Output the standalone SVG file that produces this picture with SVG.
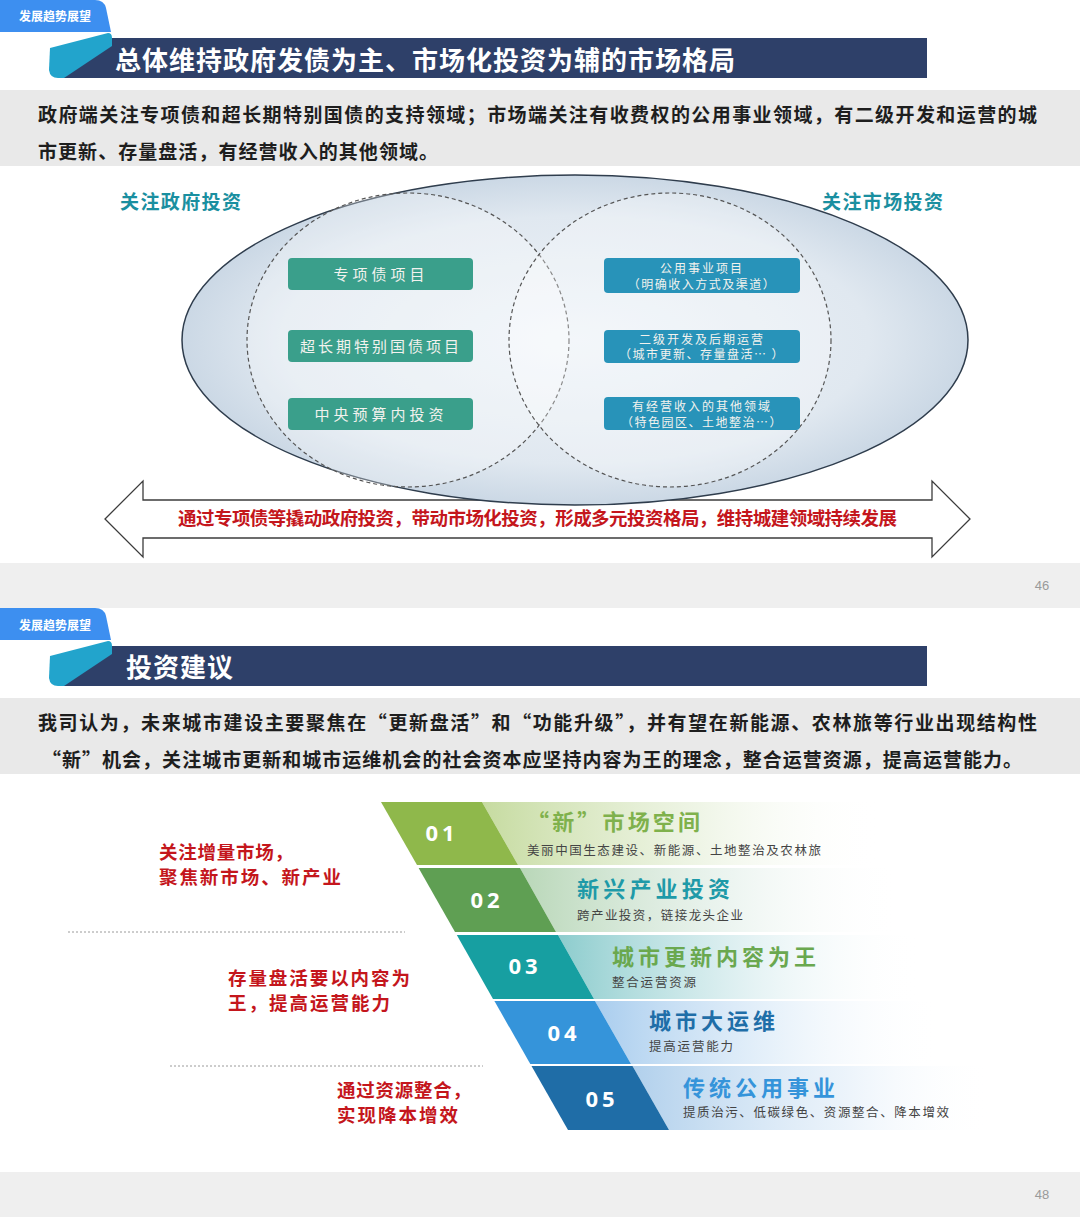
<svg xmlns="http://www.w3.org/2000/svg" width="1080" height="1217" viewBox="0 0 1080 1217">
<defs>
<style>
text{font-family:"Noto Sans CJK SC","Liberation Sans",sans-serif;dominant-baseline:central}
.tab{fill:#3d8ff0}
.tabt{fill:#fff;font-size:12px;font-weight:700}
.navy{fill:#2e4069}
.cyan{fill:#22a4cc}
.title{fill:#fff;font-size:26px;font-weight:700}
.band{fill:#e9e9e9}
.lead{fill:#1e1e1e;font-size:19px;font-weight:700}
.foot{fill:#efefef}
.pg{fill:#9a9a9a;font-size:13px;font-family:"Liberation Sans",sans-serif}
.lab{fill:#1a8fa0;font-size:19px;font-weight:700}
.gbox{fill:#3a9f8b}
.bbox{fill:#2893b9}
.bt{fill:#f2f2ee;font-size:15px}
.bt2{fill:#f2f2ee;font-size:12px}
.red{fill:#c4161c;font-size:18.5px;font-weight:700}
.num{fill:#fff;font-size:22px;font-weight:700;font-family:"Open Sans","Liberation Sans",sans-serif;letter-spacing:4px}
.ft{font-size:22px;font-weight:700}
.fs{fill:#444;font-size:12.5px}
.dot{stroke:#9a9a9a;stroke-width:1;stroke-dasharray:2 2;fill:none}
</style>
<radialGradient id="ell" cx="0.5" cy="0.5" r="0.5">
<stop offset="0" stop-color="#eef3f8"/>
<stop offset="0.75" stop-color="#e0e8f0"/>
<stop offset="1" stop-color="#cbd8e5"/>
</radialGradient>
<linearGradient id="tabg" x1="0" y1="0" x2="0" y2="1">
<stop offset="0" stop-color="#4a9af5"/>
<stop offset="1" stop-color="#3584e8"/>
</linearGradient>
<linearGradient id="g1" x1="0" y1="0" x2="1" y2="0"><stop offset="0" stop-color="#c6dba0"/><stop offset="0.55" stop-color="#e8f1dc" stop-opacity="0.7"/><stop offset="1" stop-color="#fff" stop-opacity="0"/></linearGradient>
<linearGradient id="g2" x1="0" y1="0" x2="1" y2="0"><stop offset="0" stop-color="#b9d7b8"/><stop offset="0.55" stop-color="#e4f0ea" stop-opacity="0.7"/><stop offset="1" stop-color="#fff" stop-opacity="0"/></linearGradient>
<linearGradient id="g3" x1="0" y1="0" x2="1" y2="0"><stop offset="0" stop-color="#8ccccd"/><stop offset="0.55" stop-color="#dbeef0" stop-opacity="0.7"/><stop offset="1" stop-color="#fff" stop-opacity="0"/></linearGradient>
<linearGradient id="g4" x1="0" y1="0" x2="1" y2="0"><stop offset="0" stop-color="#a9cdee"/><stop offset="0.55" stop-color="#e1eef9" stop-opacity="0.7"/><stop offset="1" stop-color="#fff" stop-opacity="0"/></linearGradient>
<linearGradient id="g5" x1="0" y1="0" x2="1" y2="0"><stop offset="0" stop-color="#b1d0ec"/><stop offset="0.6" stop-color="#e4eff9" stop-opacity="0.7"/><stop offset="1" stop-color="#fff" stop-opacity="0"/></linearGradient>
</defs>

<rect x="0" y="0" width="1080" height="1217" fill="#fff"/>

<!-- Slide 1 -->
<g id="slide1-header">
<path class="tab" fill="url(#tabg)" d="M0,0 H95 Q104,0 106,8 L111,32 H0 Z"/>
<text class="tabt" x="19" y="15">发展趋势展望</text>
<path class="navy" d="M100,38 H927 V78 H62 Q55,78 55,72 Z"/>
<path class="cyan" d="M50,48 L108,33 Q112,33 112,38 L112,46 L64,78 H58 Q50,78 49,70 Z"/>
<text class="title" x="115" y="58" textLength="620" lengthAdjust="spacing">总体维持政府发债为主、市场化投资为辅的市场格局</text>
</g>
<g id="slide1-lead">
<rect class="band" x="0" y="90" width="1080" height="76"/>
<text class="lead" x="38" y="113" textLength="999" lengthAdjust="spacing">政府端关注专项债和超长期特别国债的支持领域；市场端关注有收费权的公用事业领域，有二级开发和运营的城</text>
<text class="lead" x="38" y="150" textLength="400" lengthAdjust="spacing">市更新、存量盘活，有经营收入的其他领域。</text>
</g>

<g id="double-arrow">
<path d="M105,519 L143,481 V500 H932 V481 L970,519 L932,557 V538 H143 V557 Z" fill="#fff" stroke="#3c3c3c" stroke-width="1.3" stroke-linejoin="miter"/>
</g>

<g id="venn">
<ellipse cx="575" cy="340" rx="393" ry="165" fill="url(#ell)" stroke="#2f3d4d" stroke-width="1.5"/>
<ellipse cx="408" cy="340" rx="161" ry="147" fill="#fff" fill-opacity="0.3" stroke="#555" stroke-width="1.2" stroke-dasharray="4 3"/>
<ellipse cx="670" cy="340" rx="161" ry="147" fill="#fff" fill-opacity="0.3" stroke="#555" stroke-width="1.2" stroke-dasharray="4 3"/>
</g>

<g id="label-gov"><text class="lab" x="120" y="200" textLength="121" lengthAdjust="spacing">关注政府投资</text></g>
<g id="label-mkt"><text class="lab" x="822" y="200" textLength="121" lengthAdjust="spacing">关注市场投资</text></g>

<g id="box-g1"><rect class="gbox" x="288" y="258" width="185" height="32" rx="4"/><text class="bt" x="381" y="273" text-anchor="middle" letter-spacing="4">专项债项目</text></g>
<g id="box-g2"><rect class="gbox" x="288" y="330" width="185" height="32" rx="4"/><text class="bt" x="381" y="345" text-anchor="middle" letter-spacing="3">超长期特别国债项目</text></g>
<g id="box-g3"><rect class="gbox" x="288" y="398" width="185" height="32" rx="4"/><text class="bt" x="381" y="413" text-anchor="middle" letter-spacing="4">中央预算内投资</text></g>

<g id="box-m1"><rect class="bbox" x="604" y="258" width="196" height="35" rx="4"/><text class="bt2" x="702" y="267" text-anchor="middle" letter-spacing="2">公用事业项目</text><text class="bt2" x="702" y="283" text-anchor="middle" letter-spacing="1.5">（明确收入方式及渠道）</text></g>
<g id="box-m2"><rect class="bbox" x="604" y="330" width="196" height="33" rx="4"/><text class="bt2" x="702" y="338" text-anchor="middle" letter-spacing="2">二级开发及后期运营</text><text class="bt2" x="702" y="353" text-anchor="middle" letter-spacing="1.5">（城市更新、存量盘活… ）</text></g>
<g id="box-m3"><rect class="bbox" x="604" y="397" width="196" height="33" rx="4"/><text class="bt2" x="702" y="405" text-anchor="middle" font-size="14" letter-spacing="2">有经营收入的其他领域</text><text class="bt2" x="702" y="421" text-anchor="middle" letter-spacing="1.5">（特色园区、土地整治…）</text></g>

<g id="arrow-label"><text class="red" x="178" y="517" font-size="17" textLength="719" lengthAdjust="spacing">通过专项债等撬动政府投资，带动市场化投资，形成多元投资格局，维持城建领域持续发展</text></g>

<g id="slide1-footer">
<rect class="foot" x="0" y="563" width="1080" height="45"/>
<text class="pg" x="1042" y="585" text-anchor="middle">46</text>
</g>

<!-- Slide 2 -->
<g id="slide2-header">
<path class="tab" fill="url(#tabg)" d="M0,608 H95 Q104,608 106,616 L111,640 H0 Z"/>
<text class="tabt" x="19" y="624">发展趋势展望</text>
<path class="navy" d="M100,646 H927 V686 H62 Q55,686 55,680 Z"/>
<path class="cyan" d="M50,656 L108,641 Q112,641 112,646 L112,654 L64,686 H58 Q50,686 49,678 Z"/>
<text class="title" x="126" y="665" textLength="107" lengthAdjust="spacing">投资建议</text>
</g>
<g id="slide2-lead">
<rect class="band" x="0" y="698" width="1080" height="76"/>
<text class="lead" x="38" y="721" textLength="999" lengthAdjust="spacing">我司认为，未来城市建设主要聚焦在“更新盘活”和“功能升级”，并有望在新能源、农林旅等行业出现结构性</text>
<text class="lead" x="42" y="758" textLength="980" lengthAdjust="spacing">“新”机会，关注城市更新和城市运维机会的社会资本应坚持内容为王的理念，整合运营资源，提高运营能力。</text>
</g>

<g id="row1">
<polygon points="482,802 880,802 880,865 518,865" fill="url(#g1)"/>
<polygon points="381,802 482,802 518,865 417,865" fill="#8fb84b"/>
<text class="num" x="442" y="832" text-anchor="middle">01</text>
<text class="ft" x="527" y="820" fill="#7fb14c" textLength="173" lengthAdjust="spacing">“新”市场空间</text>
<text class="fs" x="527" y="849" textLength="294" lengthAdjust="spacing">美丽中国生态建设、新能源、土地整治及农林旅</text>
</g>
<g id="row2">
<polygon points="520,868 900,868 900,932 556,932" fill="url(#g2)"/>
<polygon points="418.6,868 520,868 556,932 455,932" fill="#5f9f53"/>
<text class="num" x="487" y="899" text-anchor="middle">02</text>
<text class="ft" x="577" y="887" fill="#1e9aa8" textLength="153" lengthAdjust="spacing">新兴产业投资</text>
<text class="fs" x="577" y="914" textLength="166" lengthAdjust="spacing">跨产业投资，链接龙头企业</text>
</g>
<g id="row3">
<polygon points="558,935 920,935 920,999 594,999" fill="url(#g3)"/>
<polygon points="456.8,935 558,935 594,999 493,999" fill="#179fa1"/>
<text class="num" x="525" y="965" text-anchor="middle">03</text>
<text class="ft" x="612" y="955" fill="#6aa84f" textLength="204" lengthAdjust="spacing">城市更新内容为王</text>
<text class="fs" x="612" y="981" textLength="84" lengthAdjust="spacing">整合运营资源</text>
</g>
<g id="row4">
<polygon points="595,1001 940,1001 940,1064 631,1064" fill="url(#g4)"/>
<polygon points="494.4,1001 595,1001 631,1064 530.3,1064" fill="#3594da"/>
<text class="num" x="564" y="1032" text-anchor="middle">04</text>
<text class="ft" x="649" y="1019" fill="#1f6ea8" textLength="126" lengthAdjust="spacing">城市大运维</text>
<text class="fs" x="649" y="1045" textLength="84" lengthAdjust="spacing">提高运营能力</text>
</g>
<g id="row5">
<polygon points="632.5,1066 990,1066 990,1130 669,1130" fill="url(#g5)"/>
<polygon points="531.5,1066 632.5,1066 669,1130 568,1130" fill="#1f6da7"/>
<text class="num" x="602" y="1098" text-anchor="middle">05</text>
<text class="ft" x="683" y="1086" fill="#3594da" textLength="152" lengthAdjust="spacing">传统公用事业</text>
<text class="fs" x="683" y="1111" textLength="266" lengthAdjust="spacing">提质治污、低碳绿色、资源整合、降本增效</text>
</g>

<g id="note1">
<text class="red" x="159" y="851" textLength="134" lengthAdjust="spacing">关注增量市场，</text>
<text class="red" x="159" y="876" textLength="182" lengthAdjust="spacing">聚焦新市场、新产业</text>
</g>
<g id="note2">
<text class="red" x="228" y="977" textLength="182" lengthAdjust="spacing">存量盘活要以内容为</text>
<text class="red" x="228" y="1002" textLength="162" lengthAdjust="spacing">王，提高运营能力</text>
</g>
<g id="note3">
<text class="red" x="337" y="1089" textLength="134" lengthAdjust="spacing">通过资源整合，</text>
<text class="red" x="337" y="1114" textLength="121" lengthAdjust="spacing">实现降本增效</text>
</g>
<g id="connectors">
<line class="dot" x1="68" y1="932" x2="405" y2="932"/>
<line class="dot" x1="170" y1="1066" x2="483" y2="1066"/>
</g>

<g id="slide2-footer">
<rect class="foot" x="0" y="1172" width="1080" height="45"/>
<text class="pg" x="1042" y="1194" text-anchor="middle">48</text>
</g>
</svg>
